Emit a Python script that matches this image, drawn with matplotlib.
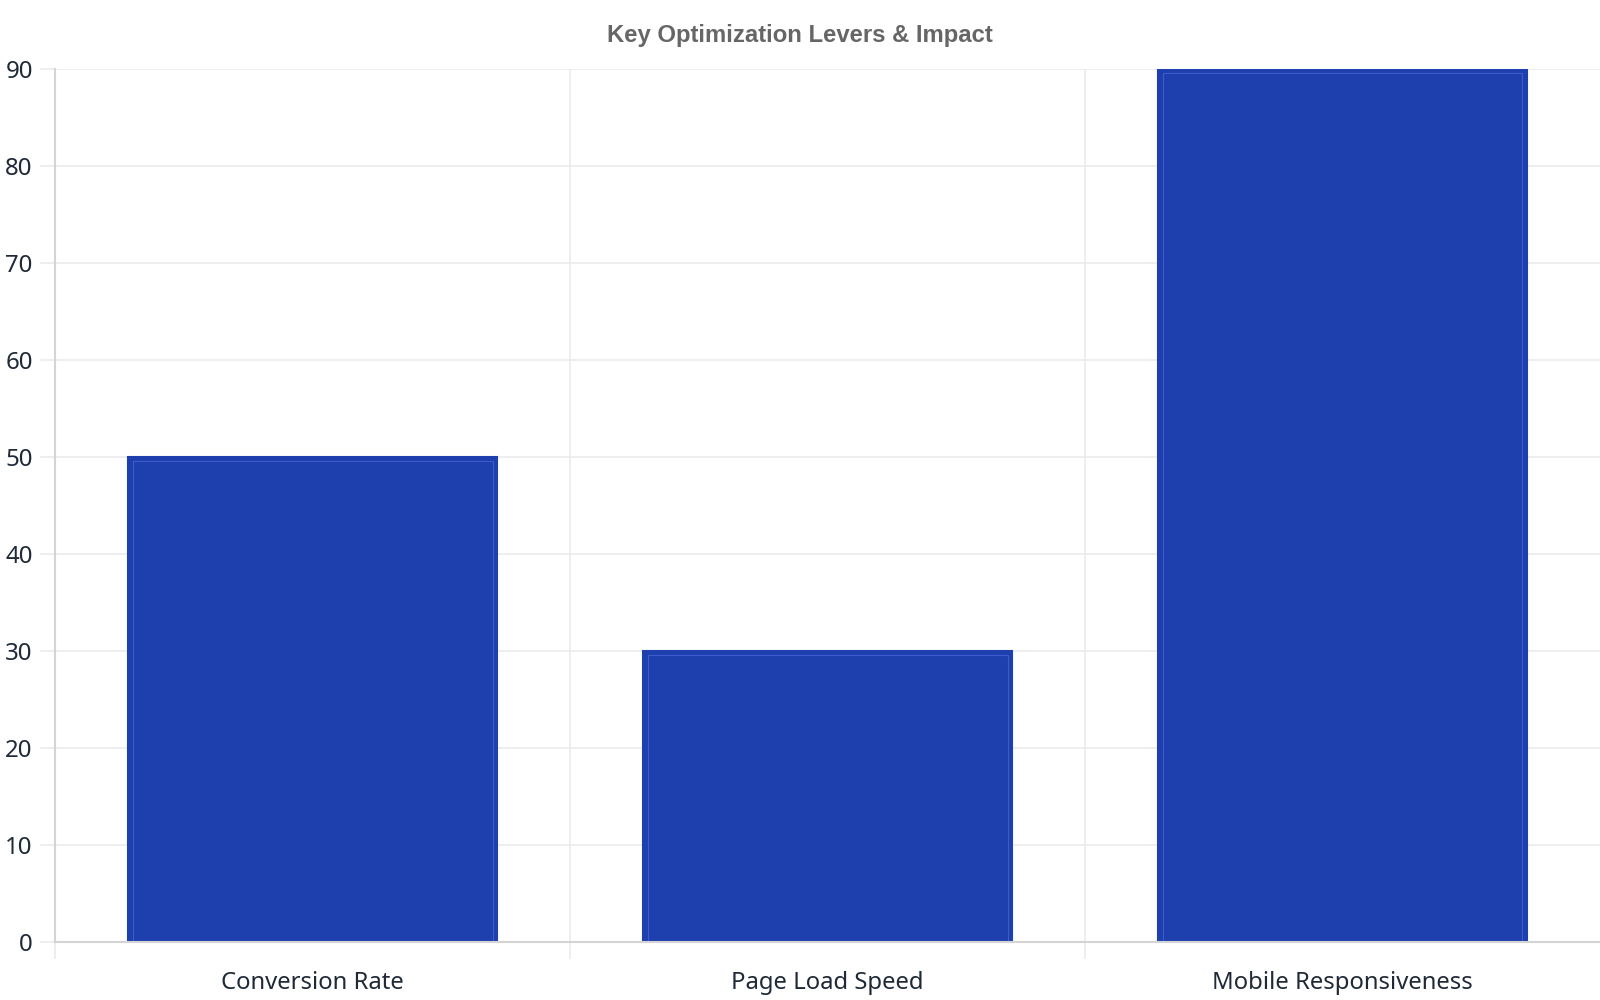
import matplotlib
matplotlib.use("Agg")
import matplotlib.pyplot as plt
from matplotlib.ticker import FixedLocator

# data
categories = ["Conversion Rate", "Page Load Speed", "Mobile Responsiveness"]
impact = [50, 30, 90]
y_ticks = [0, 10, 20, 30, 40, 50, 60, 70, 80, 90]

bar_color = "#1e40af"
inner_edge = "#3d5bc9"
grid_color = "#ebebeb"
axis_color = "#d4d4d4"
text_color = "#1f2937"

fig = plt.figure(figsize=(16, 10), dpi=100)
ax = fig.add_axes([0.0344, 0.058, 0.9656, 0.873])

x = list(range(len(categories)))
width = 0.715
ax.bar(x, impact, width=width, color=bar_color, edgecolor=bar_color,
       linewidth=1.5, zorder=3)
# thin lighter inner outline
ax.bar(x, [v - 0.4 for v in impact], width=width - 0.016, fill=False,
       edgecolor=inner_edge, linewidth=0.8, zorder=4)

ax.set_xlim(-0.5, len(categories) - 0.5)
ax.set_ylim(0, 90)
ax.set_yticks(y_ticks)
ax.set_xticks(x)
ax.set_xticklabels(categories)
ax.xaxis.set_minor_locator(FixedLocator([-0.5, 0.5, 1.5]))

ax.grid(axis="y", color=grid_color, linewidth=1.2, zorder=0)
ax.grid(axis="x", which="minor", color=grid_color, linewidth=1.2, zorder=0)

for side in ["top", "right"]:
    ax.spines[side].set_visible(False)
ax.spines["left"].set_color(axis_color)
ax.spines["bottom"].set_color(axis_color)
ax.spines["left"].set_linewidth(1.5)
ax.spines["bottom"].set_linewidth(1.5)
ax.spines["left"].set_zorder(5)
ax.spines["bottom"].set_zorder(5)

ax.tick_params(axis="y", length=11, width=1.2, color=grid_color, pad=5,
               labelsize=17.3, labelcolor=text_color)
ax.tick_params(axis="x", which="major", length=0, pad=21,
               labelsize=17.2, labelcolor=text_color)
ax.tick_params(axis="x", which="minor", length=12.5, width=1.2, color=grid_color)
for lab in ax.get_xticklabels() + ax.get_yticklabels():
    lab.set_family(["Noto Sans", "DejaVu Sans"])

fig.text(0.5, 0.958, "Key Optimization Levers & Impact", ha="center", va="baseline",
         fontsize=17.2, fontweight="bold", color="#666666",
         family=["Liberation Sans", "DejaVu Sans"])

fig.savefig("out.png", dpi=100, facecolor="white")
